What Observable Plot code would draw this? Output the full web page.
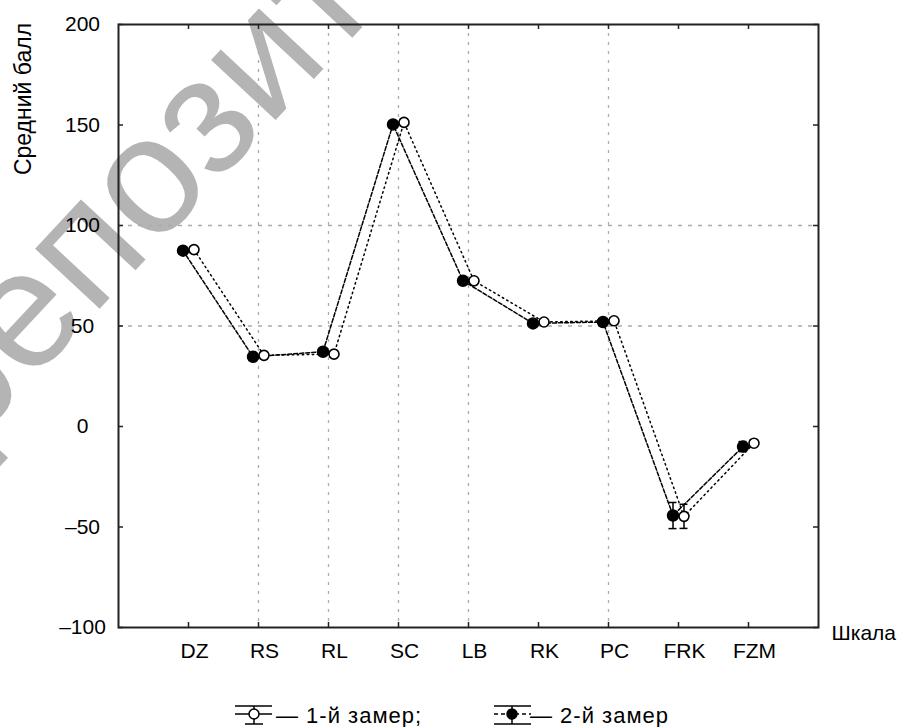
<!DOCTYPE html>
<html><head><meta charset="utf-8">
<script src="https://cdn.jsdelivr.net/npm/d3@7"></script>
<script src="https://cdn.jsdelivr.net/npm/@observablehq/plot@0.6"></script>
<style>
body{margin:0;background:#fff;font-family:"Liberation Sans",Arial,sans-serif;}
#wrap{position:relative;width:903px;height:727px;overflow:hidden;background:#fff;}
#chart{position:absolute;left:0;top:0;}
.layer{position:absolute;left:0;top:0;}
.icon{position:absolute;}
.leg{position:absolute;font-size:22px;line-height:22px;letter-spacing:1px;white-space:nowrap;color:#000;}
</style></head>
<body>
<div id="wrap">
  <svg class="layer" width="903" height="727">
    <text id="wm" transform="translate(-35,453) rotate(-47)" font-family="Liberation Sans, Arial, sans-serif" font-size="167" fill="#b4b4b4"></text>
  </svg>
  <div id="chart"></div>
  <svg class="layer" width="903" height="727" style="pointer-events:none">
    <text id="ytitle" transform="translate(31,99) rotate(-90)" text-anchor="middle" font-family="Liberation Sans, Arial, sans-serif" font-size="23" fill="#000"></text>
  </svg>
  <svg class="icon" style="left:234px;top:700px" width="40" height="27">
    <g stroke="#000" stroke-width="1.5" fill="none">
      <line x1="1" x2="38" y1="6" y2="6"/>
      <line x1="1" x2="38" y1="14" y2="14"/>
      <line x1="20" x2="20" y1="6" y2="24"/>
      <line x1="11" x2="29" y1="24" y2="24"/>
      <circle cx="20" cy="14" r="5" fill="#fff"/>
    </g>
  </svg>
  <div class="leg" style="left:276px;top:705px">— 1-й замер;</div>
  <svg class="icon" style="left:493px;top:700px" width="40" height="27">
    <g stroke="#000" stroke-width="1.5" fill="none">
      <line x1="1" x2="38" y1="6" y2="6"/>
      <line x1="1" x2="38" y1="14" y2="14" stroke-dasharray="4,3"/>
      <line x1="19" x2="19" y1="6" y2="24"/>
      <line x1="1" x2="38" y1="24" y2="24"/>
      <circle cx="19" cy="14" r="5" fill="#000"/>
    </g>
  </svg>
  <div class="leg" style="left:530px;top:705px">— 2-й замер</div>
</div>
<script>
const cats = ["DZ","RS","RL","SC","LB","RK","PC","FRK","FZM"];
const zamer1 = [88, 35.4, 36, 151.3, 72.5, 52, 52.6, -44.7, -8.3];   // open circles
const zamer2 = [87.5, 34.7, 37.2, 150.3, 72.5, 51.3, 52, -44.3, -10]; // filled circles
const err1 = [1.5, 1.5, 1.5, 1.5, 1.5, 1.5, 1.5, 6, 1.5];
const err2 = [1.5, 1.5, 1.5, 1.5, 1.5, 1.5, 1.5, 6.5, 2.5];
const yTicks = [-100, -50, 0, 50, 100, 150, 200];
const gridX = ["RS","RL","SC","LB","PC"];
const gridY = [50, 100];
const xTitle = "Шкала";
const yTitle = "Средний балл";
const watermark = "репозиторий";

document.getElementById("wm").textContent = watermark;
document.getElementById("ytitle").textContent = yTitle;

const d1 = cats.map((c, i) => ({cat: c, v: zamer1[i], e: err1[i]}));
const d2 = cats.map((c, i) => ({cat: c, v: zamer2[i], e: err2[i]}));
const fmt = d => d < 0 ? "\u2013" + Math.abs(d) : String(d);
const off = 5.5;
const cap = (data, dx, fy) => Plot.ruleY(data, {x1: "cat", x2: "cat", y: fy, dx, insetLeft: -4, insetRight: -4, stroke: "#000", strokeWidth: 1.5});

const chart = Plot.plot({
  width: 903, height: 670,
  marginLeft: 118, marginRight: 85, marginTop: 24, marginBottom: 43,
  x: {type: "point", domain: cats, padding: 1},
  y: {domain: [-100, 200]},
  style: {fontFamily: "'Liberation Sans', Arial, sans-serif", fontSize: "21px", color: "#000", background: "transparent", overflow: "visible"},
  marks: [
    Plot.ruleX(gridX, {stroke: "#ababab", strokeDasharray: "3,6", strokeWidth: 1.3}),
    Plot.ruleY(gridY, {stroke: "#ababab", strokeDasharray: "4,6", strokeWidth: 1.3}),
    Plot.ruleX(cats, {insetTop: 598, stroke: "#222", strokeWidth: 1.5}),
    Plot.ruleX(cats, {insetBottom: 598, stroke: "#222", strokeWidth: 1.5}),
    Plot.ruleY(yTicks, {insetRight: 695, stroke: "#222", strokeWidth: 1.5}),
    Plot.ruleY(yTicks, {insetLeft: 695, stroke: "#222", strokeWidth: 1.5}),
    Plot.frame({stroke: "#222", strokeWidth: 2}),
    Plot.axisY({ticks: yTicks, tickSize: 0, tickPadding: 36, textAnchor: "middle", tickFormat: fmt, label: null, fontSize: 21}),
    Plot.axisX({tickSize: 0, tickPadding: 16, dx: 6, label: null, fontSize: 21}),
    Plot.text([xTitle], {frameAnchor: "bottom-right", dx: 13, dy: 12, textAnchor: "start", lineAnchor: "bottom", fontSize: 21}),
    Plot.line(d1, {x: "cat", y: "v", dx: off, stroke: "#000", strokeWidth: 1.5, strokeDasharray: "1.5,3.5"}),
    Plot.line(d2, {x: "cat", y: "v", dx: -off, stroke: "#000", strokeWidth: 1.5, strokeDasharray: "4,2"}),
    Plot.ruleX(d1, {x: "cat", y1: d => d.v - d.e, y2: d => d.v + d.e, dx: off, stroke: "#000", strokeWidth: 1.5}),
    Plot.ruleX(d2, {x: "cat", y1: d => d.v - d.e, y2: d => d.v + d.e, dx: -off, stroke: "#000", strokeWidth: 1.5}),
    cap(d1, off, d => d.v - d.e),
    cap(d1, off, d => d.v + d.e),
    cap(d2, -off, d => d.v - d.e),
    cap(d2, -off, d => d.v + d.e),
    Plot.dot(d2, {x: "cat", y: "v", dx: -off, r: 5.5, fill: "#000", stroke: "#000"}),
    Plot.dot(d1, {x: "cat", y: "v", dx: off, r: 5, fill: "#fff", stroke: "#000", strokeWidth: 1.6})
  ]
});
document.getElementById("chart").appendChild(chart);
</script>
</body></html>
